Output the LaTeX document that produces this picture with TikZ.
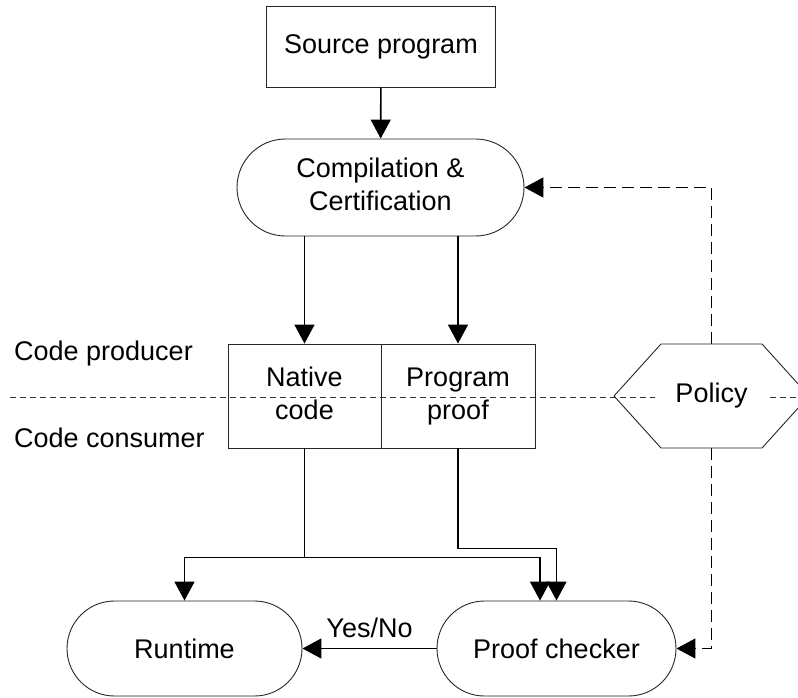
\documentclass[tikz,border=0pt]{standalone}
\usepackage{fontspec}
\setmainfont{Liberation Sans}
\usetikzlibrary{arrows.meta}
\newcommand\diagfont{\fontsize{27}{33}\selectfont}
\begin{document}
\begin{tikzpicture}[x=1pt,y=-1pt,
  box/.style={draw=black!85, line width=0.9pt, inner sep=0pt, align=center, font=\diagfont},
  term/.style={box, rounded corners=47.5pt},
  label/.style={inner sep=0pt, font=\diagfont},
  conn/.style={line width=1.6pt, -{Triangle[width=20pt,length=19pt]}},
  plain/.style={line width=1.6pt},
  dconn/.style={line width=1.4pt, dash pattern=on 12pt off 6pt, -{Triangle[width=20pt,length=19pt]}},
  divider/.style={draw=black!80, line width=0.8pt, dash pattern=on 6pt off 4pt}
]
\useasboundingbox (0,0) rectangle (798,697);
\clip (0,0) rectangle (798,697);

% producer / consumer divider
\coordinate (divL) at (10,397);
\coordinate (divR) at (810,397);
\draw[divider] (divL) -- (divR);

% nodes
\node[box, minimum width=229pt, minimum height=81pt] (src) at (381,46.5) {Source program};
\node[term, rounded corners=48.5pt, minimum width=287pt, minimum height=97pt] (comp) at (380.5,187.5) {Compilation \&\strut\\Certification\strut};
\node[box, minimum width=153pt, minimum height=104pt] (native) at (304.5,396) {Native\strut\\code\strut};
\node[box, minimum width=154pt, minimum height=104pt] (proof) at (458,396) {Program\strut\\proof\strut};
\node[term, minimum width=235pt, minimum height=95pt] (runtime) at (184.5,648.5) {Runtime};
\node[term, minimum width=239pt, minimum height=95pt] (checker) at (556.5,648.5) {Proof checker};

\node[label, anchor=west] (prod) at (14,354) {Code producer};
\node[label, anchor=west] (cons) at (14,438) {Code consumer};

% policy hexagon
\draw[draw=black!85, line width=0.9pt] (614,396) -- (661,344) -- (762,344) -- (809,396) -- (762,448) -- (661,448) -- cycle;
\node[label, fill=white, inner xsep=20pt, inner ysep=4pt] (policy) at (711.5,396) {Policy};
\coordinate (poltop) at (711.5,344);
\coordinate (polbot) at (711.5,448);

% connectors
\draw[conn] (src) -- (comp);
\draw[conn] (comp.south -| native) -- (native.north);
\draw[conn] (comp.south -| proof) -- (proof.north);
\draw[plain] (native.south) -- ++(0,109) coordinate (split);
\draw[conn] (split) -| (runtime.north);
\draw[conn] (split) -| ([xshift=-16.5pt]checker.north);
\draw[conn] (proof.south) -- ++(0,100) -| (checker.north);
\draw[conn] (checker.west) -- node[label, above=10pt] {Yes/No} (runtime.east);
\draw[dconn] (poltop) |- (comp.east);
\draw[dconn] (polbot) |- (checker.east);
\end{tikzpicture}
\end{document}
